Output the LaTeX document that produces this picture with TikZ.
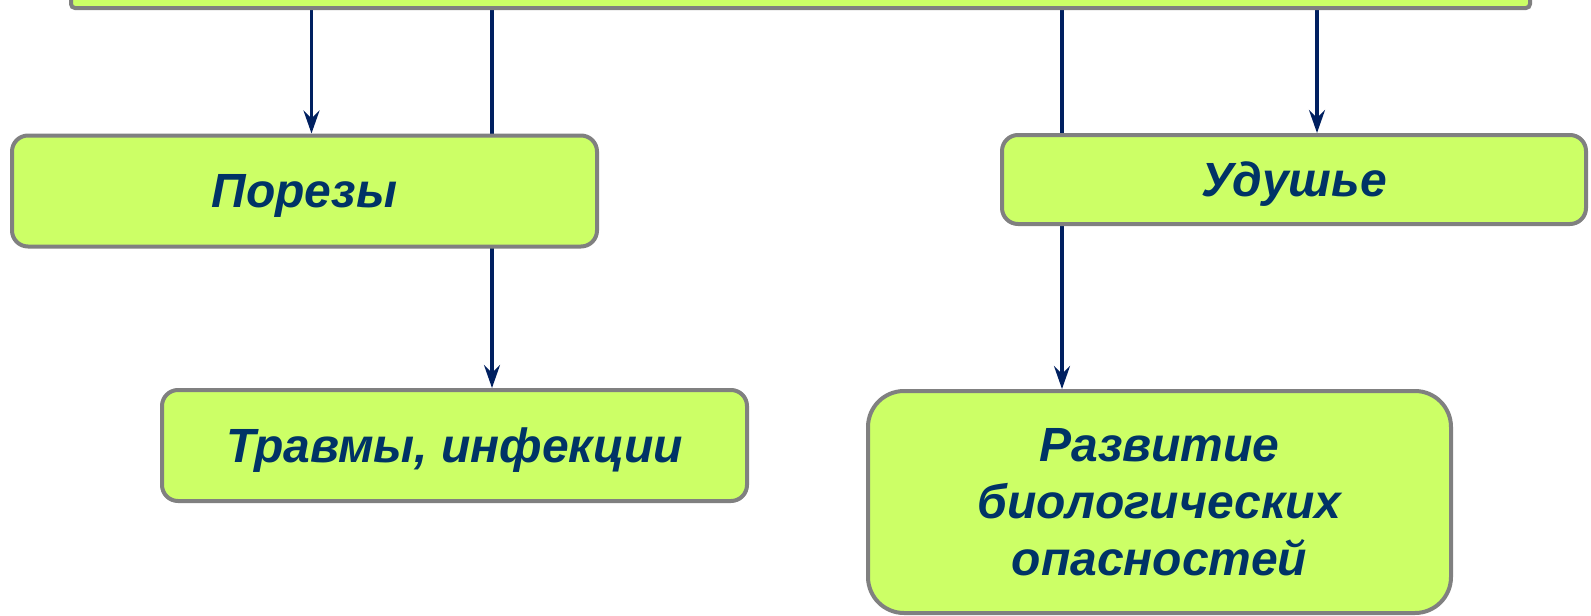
\documentclass[tikz,border=0pt]{standalone}
\usepackage{fontspec}
\setmainfont{Liberation Sans}
\usetikzlibrary{arrows.meta,backgrounds}
\definecolor{boxfill}{HTML}{CCFF66}
\definecolor{boxline}{HTML}{808080}
\definecolor{txt}{HTML}{003366}
\definecolor{arrcol}{HTML}{002060}
\tikzset{
  box/.style={draw=boxline, fill=boxfill, line width=4pt, rounded corners=16pt,
    inner sep=0pt, text depth=0pt, font=\fontsize{48}{57}\selectfont\bfseries\itshape, text=txt, align=center},
  conn/.style={draw=arrcol, line width=3.2pt},
  arr/.style={conn, -{Stealth[length=23pt, width=16pt, inset=8pt]}}
}
\begin{document}
\begin{tikzpicture}[x=1pt,y=-1pt]
\useasboundingbox (0,0) rectangle (1591,616);
\clip (0,0) rectangle (1591,616);
\node[box, rounded corners=4pt, minimum width=1459pt, minimum height=60pt] (top) at (800.5,-22) {};
\node[box, minimum width=585pt, minimum height=111pt] (porezy) at (304.5,191) {Порезы};
\node[box, minimum width=584pt, minimum height=89pt] (udushye) at (1294,179.5) {Удушье};
\node[box, minimum width=585pt, minimum height=111pt] (travmy) at (454.5,445.5) {Травмы, инфекции};
\node[box, rounded corners=36pt, minimum width=583pt, minimum height=222pt] (razvitie) at (1159.5,502) {Развитие\\биологических\\опасностей};
\coordinate (c1) at (311.5,0);
\coordinate (c2) at (492,0);
\coordinate (c3) at (1062,0);
\coordinate (c4) at (1317,0);
\begin{scope}[on background layer]
\draw[arr] (top.south -| c1) -- (porezy.north -| c1);
\draw[arr] (top.south -| c2) -- (travmy.north -| c2);
\draw[arr] (top.south -| c3) -- (razvitie.north -| c3);
\draw[arr] (top.south -| c4) -- (udushye.north -| c4);
\end{scope}
\end{tikzpicture}
\end{document}
